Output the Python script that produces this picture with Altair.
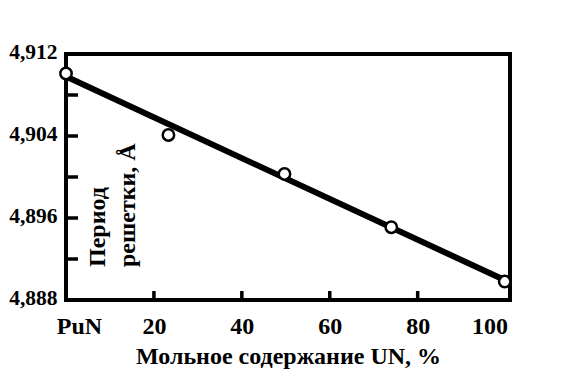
import altair as alt
import pandas as pd

# measured points
pt_x = [0, 23.3, 49.7, 74.0, 99.8]
pt_y = [4.9101, 4.9041, 4.9003, 4.8951, 4.8898]

# fitted line endpoints
line_x = [0, 100]
line_y = [4.9098, 4.8899]

y_minor_ticks = [4.892, 4.896, 4.900, 4.904, 4.908]
y_label_values = [4.888, 4.896, 4.904, 4.912]
x_minor_ticks = [20, 40, 60, 80]
x_label_values = [0, 20, 40, 60, 80, 100]

x_title = "Мольное содержание UN, %"
y_title_lines = ["Период", "решетки, Å"]

FONT = "Liberation Serif"

pts = pd.DataFrame({"x": pt_x, "y": pt_y})
ln = pd.DataFrame({"x": line_x, "y": line_y})
yt = pd.DataFrame({"y": y_minor_ticks})
xt = pd.DataFrame({"x": x_minor_ticks})

xs = alt.Scale(domain=[0, 101], nice=False, zero=False)
ys = alt.Scale(domain=[4.888, 4.912], nice=False, zero=False)

x_axis = alt.Axis(
    values=x_label_values,
    labelExpr="datum.value == 0 ? 'PuN' : datum.label",
    labelOffset={"condition": [{"test": "datum.value == 0", "value": 13},
                               {"test": "datum.value == 100", "value": -16}],
                 "value": 0},
    labelFlush=False,
    ticks=False, tickSize=0, domain=False, grid=False,
    labelPadding=14, labelFontSize=24, labelFont=FONT, labelFontWeight="bold",
    labelColor="black", title=x_title, titleFont=FONT, titleFontSize=24,
    titleFontWeight="bold", titleColor="black", titlePadding=6,
)
y_axis = alt.Axis(
    values=y_label_values,
    labelExpr="replace(format(datum.value, '.3f'), '.', ',')",
    ticks=False, tickSize=0, domain=False, grid=False,
    labelPadding=9, labelFontSize=21.5, labelFont=FONT, labelFontWeight="bold",
    labelColor="black", title=None, labelOffset=-2,
)

line = alt.Chart(ln).mark_line(color="black", strokeWidth=6).encode(
    x=alt.X("x:Q", scale=xs, axis=x_axis),
    y=alt.Y("y:Q", scale=ys, axis=y_axis),
)
points = alt.Chart(pts).mark_point(
    shape="circle", filled=True, fill="white", stroke="black",
    strokeWidth=2.5, size=130, opacity=1,
).encode(x=alt.X("x:Q", scale=xs), y=alt.Y("y:Q", scale=ys))

yticks = alt.Chart(yt).mark_rule(color="black", strokeWidth=3.5).encode(
    y=alt.Y("y:Q", scale=ys), x=alt.value(0), x2=alt.value(12)
)
xticks = alt.Chart(xt).mark_rule(color="black", strokeWidth=3.5).encode(
    x=alt.X("x:Q", scale=xs), y=alt.value(246), y2=alt.value(237)
)

t1 = alt.Chart(pd.DataFrame({"t": [y_title_lines[0]]})).mark_text(
    angle=270, align="left", baseline="middle", font=FONT, fontSize=24,
    fontWeight="bold", color="black",
).encode(text="t:N", x=alt.value(32), y=alt.value(213))
t2 = alt.Chart(pd.DataFrame({"t": [y_title_lines[1]]})).mark_text(
    angle=270, align="left", baseline="middle", font=FONT, fontSize=24,
    fontWeight="bold", color="black",
).encode(text="t:N", x=alt.value(62), y=alt.value(213))

chart = alt.layer(yticks, xticks, line, points, t1, t2).properties(
    width=444, height=246,
    background="white",
    autosize=alt.AutoSizeParams(type="none"),
    padding={"left": 58, "top": 46, "right": 68, "bottom": 83},
).configure_view(stroke="black", strokeWidth=4)

chart.save("out.html", embed_options={"renderer": "svg", "actions": False})
